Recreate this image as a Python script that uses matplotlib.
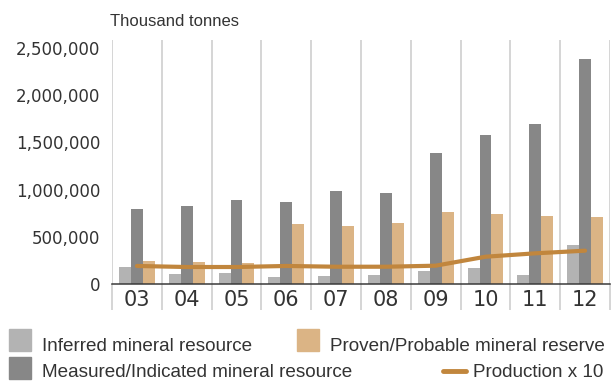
import numpy as np
import matplotlib
matplotlib.use("Agg")
import matplotlib.pyplot as plt
from matplotlib.patches import Rectangle
from matplotlib.lines import Line2D
from matplotlib.ticker import FuncFormatter

# ---------------------------------------------------------------- data
years = ["03", "04", "05", "06", "07", "08", "09", "10", "11", "12"]
inferred = [183000, 106000, 117000, 77000, 85000, 95000, 138000, 169000, 95000, 413000]
measured = [794000, 826000, 890000, 869000, 985000, 964000, 1388000, 1578000, 1695000, 2383000]
proven = [244000, 233000, 222000, 636000, 614000, 646000, 763000, 742000, 720000, 710000]
production_x10 = [191000, 180000, 180000, 191000, 183000, 183000, 194000, 289000, 325000, 353000]

labels = ["Inferred mineral resource", "Measured/Indicated mineral resource",
          "Proven/Probable mineral reserve", "Production x 10"]

# ---------------------------------------------------------------- style
c_inf = "#b3b3b3"
c_mea = "#878787"
c_pro = "#dbb485"
c_line = "#c1863d"
c_grid = "#cacaca"
c_text = "#333333"
W, H = 615, 381

fig = plt.figure(figsize=(W / 100, H / 100), dpi=100)
ax = fig.add_axes([112 / W, 97 / H, 498 / W, 244 / H])

x = np.arange(len(years))
bw = 0.24
ax.bar(x - bw, inferred, bw, color=c_inf, zorder=2)
ax.bar(x, measured, bw, color=c_mea, zorder=2)
ax.bar(x + bw, proven, bw, color=c_pro, zorder=2)
ax.plot(x, production_x10, color=c_line, lw=3, solid_capstyle="round",
        solid_joinstyle="round", zorder=3)

ax.set_xlim(-0.5, len(years) - 0.5)
ax.set_ylim(0, 2585000)

# axes / ticks
for s in ["left", "right", "top"]:
    ax.spines[s].set_visible(False)
ax.spines["bottom"].set_color("#3a3a3a")
ax.spines["bottom"].set_linewidth(1.1)
ax.spines["bottom"].set_zorder(4)

ax.set_yticks(np.arange(0, 2500001, 500000))
ax.yaxis.set_major_formatter(FuncFormatter(lambda v, p: "{:,.0f}".format(v)))
ax.tick_params(axis="y", length=0, pad=8.5, labelsize=12, labelcolor=c_text)

ax.set_xticks(x)
ax.set_xticklabels(years)
ax.tick_params(axis="x", which="major", length=0, pad=4, labelsize=15, labelcolor=c_text)
ax.set_xticks(np.arange(-0.5, len(years)), minor=True)
ax.tick_params(axis="x", which="minor", length=19, width=1.1, color=c_grid, direction="out")
ax.grid(which="minor", axis="x", color=c_grid, lw=1.1, zorder=0)
ax.set_axisbelow(True)

txt_font = ["Liberation Sans", "DejaVu Sans"]
fig.text(110 / W, 1 - 26 / H, "Thousand tonnes", fontsize=12, color=c_text,
         family=txt_font, va="baseline", ha="left")


# ---------------------------------------------------------------- legend
def fx(px):
    return px / W


def fy(py):
    return 1 - py / H


for (px0, py0), col in [((9, 329), c_inf), ((9, 357), c_mea), ((297, 329), c_pro)]:
    fig.patches.append(Rectangle((fx(px0), fy(py0 + 22)), 22 / W, 22 / H,
                                 transform=fig.transFigure, color=col))
fig.lines.append(Line2D([fx(443), fx(466)], [fy(371), fy(371)], transform=fig.transFigure,
                        color=c_line, lw=3.5, solid_capstyle="round"))

for (px0, py0), lab in zip([(42, 351), (42, 377), (330, 351), (473, 377)], labels):
    fig.text(fx(px0), fy(py0), lab, fontsize=13.6, color=c_text, family=txt_font,
             va="baseline", ha="left")

fig.savefig("out.png", dpi=100)
